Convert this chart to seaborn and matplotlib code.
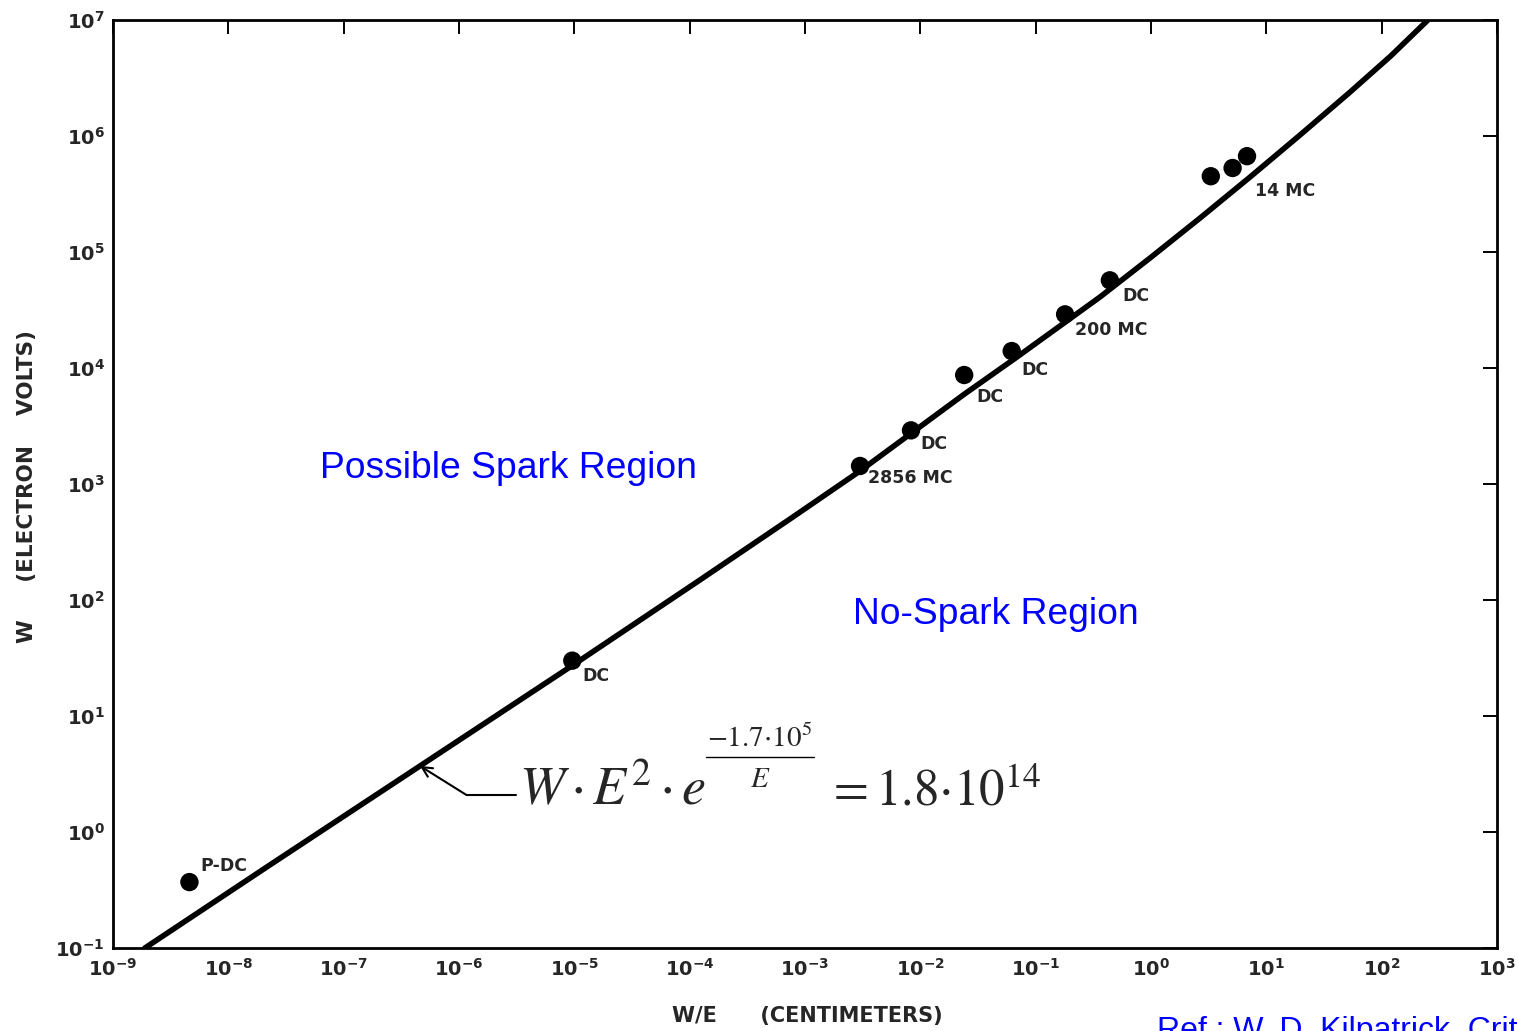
import matplotlib
matplotlib.use("Agg")
import matplotlib.pyplot as plt
from matplotlib.lines import Line2D
from matplotlib.ticker import FixedLocator, FixedFormatter, NullLocator
import pandas as pd
import seaborn as sns

# measured sparking points (W/E in cm, W in eV)
point_x = [4.6e-9, 9.6e-6, 3.0e-3, 8.3e-3, 2.4e-2, 6.2e-2, 1.8e-1, 4.4e-1, 3.3, 5.1, 6.8]
point_y = [0.37, 30, 1430, 2900, 8700, 14000, 29000, 57000, 4.5e5, 5.3e5, 6.7e5]
point_labels = ["P-DC", "DC", "2856 MC", "DC", "DC", "DC", "200 MC", "DC", "", "", "14 MC"]

# Kilpatrick criterion curve
curve_x = [1.89e-9, 2.16e-8, 4.59e-7, 9.74e-6, 1.23e-4, 7.87e-4, 3.0e-3, 2.35e-2, 6.89e-2,
           0.361, 0.982, 2.66, 7.23, 19.6, 53.2, 120, 252]
curve_y = [0.1, 0.50, 3.71, 27.5, 149, 520, 1295, 5850, 12440,
           40900, 88800, 1.96e5, 4.43e5, 1.02e6, 2.39e6, 4.9e6, 1.0e7]

x_ticks = [1e-9, 1e-8, 1e-7, 1e-6, 1e-5, 1e-4, 1e-3, 1e-2, 1e-1, 1e0, 1e1, 1e2, 1e3]
x_tick_labels = [r"$\mathdefault{10^{-9}}$", r"$\mathdefault{10^{-8}}$", r"$\mathdefault{10^{-7}}$",
                 r"$\mathdefault{10^{-6}}$", r"$\mathdefault{10^{-5}}$", r"$\mathdefault{10^{-4}}$",
                 r"$\mathdefault{10^{-3}}$", r"$\mathdefault{10^{-2}}$", r"$\mathdefault{10^{-1}}$",
                 r"$\mathdefault{10^{0}}$", r"$\mathdefault{10^{1}}$", r"$\mathdefault{10^{2}}$",
                 r"$\mathdefault{10^{3}}$"]
y_ticks = [1e-1, 1e0, 1e1, 1e2, 1e3, 1e4, 1e5, 1e6, 1e7]
y_tick_labels = [r"$\mathdefault{10^{-1}}$", r"$\mathdefault{10^{0}}$", r"$\mathdefault{10^{1}}$",
                 r"$\mathdefault{10^{2}}$", r"$\mathdefault{10^{3}}$", r"$\mathdefault{10^{4}}$",
                 r"$\mathdefault{10^{5}}$", r"$\mathdefault{10^{6}}$", r"$\mathdefault{10^{7}}$"]

# label offsets in points (right, up)
label_offsets = [(8, 11.5), (7, -11), (6, -9), (7, -10), (9, -16), (7, -14), (7, -11), (9, -11),
                 (0, 0), (0, 0), (6, -25)]

sns.set_style("white")
plt.rcParams["font.family"] = ["DejaVu Sans"]

W, H = 1518, 1031


def fx(px):
    return px / W


def fy(py):
    return 1 - py / H


fig = plt.figure(figsize=(W / 100, H / 100), dpi=100)
ax = fig.add_axes([fx(113), fy(948), 1384 / W, 928 / H])

ax.set_xscale("log")
ax.set_yscale("log")

curve = pd.DataFrame({"x": curve_x, "y": curve_y})
pts = pd.DataFrame({"x": point_x, "y": point_y})
sns.lineplot(data=curve, x="x", y="y", ax=ax, color="black", linewidth=4, sort=False,
             estimator=None)
sns.scatterplot(data=pts, x="x", y="y", ax=ax, color="black", s=175, edgecolor="none", zorder=3)

for x, y, lab, off in zip(point_x, point_y, point_labels, label_offsets):
    if lab:
        ax.annotate(lab, (x, y), xytext=off, textcoords="offset points", ha="left", va="center",
                    fontsize=12.5, fontweight="bold")

ax.set_xlim(1e-9, 1e3)
ax.set_ylim(1e-1, 1e7)
ax.xaxis.set_major_locator(FixedLocator(x_ticks))
ax.xaxis.set_major_formatter(FixedFormatter(x_tick_labels))
ax.yaxis.set_major_locator(FixedLocator(y_ticks))
ax.yaxis.set_major_formatter(FixedFormatter(y_tick_labels))
ax.xaxis.set_minor_locator(NullLocator())
ax.yaxis.set_minor_locator(NullLocator())
ax.tick_params(which="major", direction="in", length=10, width=1.4, top=True, right=True,
               labelsize=14, color="black")
ax.tick_params(axis="x", pad=7)
ax.tick_params(axis="y", pad=6)
for lab in ax.get_xticklabels() + ax.get_yticklabels():
    lab.set_fontweight("bold")
for sp in ax.spines.values():
    sp.set_linewidth(2)
    sp.set_color("black")

ax.set_xlabel("W/E      (CENTIMETERS)", fontsize=15, fontweight="bold")
ax.set_ylabel("W     (ELECTRON    VOLTS)", fontsize=15.5, fontweight="bold")
ax.xaxis.set_label_coords(0.502, -0.063)
ax.yaxis.set_label_coords(-0.055, 0.497)

# region labels
fig.text(fx(320), fy(469), "Possible Spark Region", color="#0000FF", fontsize=26.8,
         family="Liberation Sans", ha="left", va="center")
fig.text(fx(853), fy(615), "No-Spark Region", color="#0000FF", fontsize=26.8,
         family="Liberation Sans", ha="left", va="center")
fig.text(fx(1157), fy(1039), "Ref.: W. D. Kilpatrick, Criterion for Vacuum Sparking",
         color="#0000FF", fontsize=23, family="Liberation Sans", ha="left", va="baseline")

# Kilpatrick formula
fig.text(fx(519), fy(805), r"$W\,{\cdot}\,E^{2}\,{\cdot}\,e$", fontsize=39,
         math_fontfamily="stix", ha="left", va="baseline")
fig.text(fx(760), fy(747), r"${-}1.7{\cdot}10^{5}$", fontsize=21, math_fontfamily="stix",
         ha="center", va="baseline")
fig.text(fx(760), fy(787), r"$E$", fontsize=21, math_fontfamily="stix",
         ha="center", va="baseline")
fig.add_artist(Line2D([fx(706), fx(814)], [fy(757), fy(757)], color="black", linewidth=1))
fig.text(fx(826), fy(805), r"${=}1.8{\cdot}10^{14}$", fontsize=36.5, math_fontfamily="stix",
         ha="left", va="baseline")
ax.annotate("", xy=(curve_x[2], curve_y[2]), xytext=(fx(516), fy(795)),
            textcoords="figure fraction",
            arrowprops=dict(arrowstyle="->", connectionstyle="angle,angleA=0,angleB=-32,rad=0",
                            color="black", lw=1.5, shrinkA=0, shrinkB=0, mutation_scale=18))

fig.savefig("out.png", dpi=100)
